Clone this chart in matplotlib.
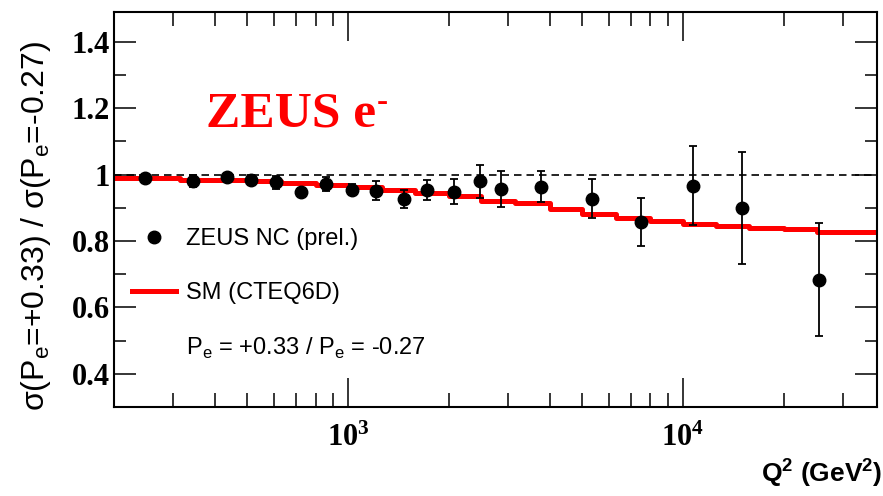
#! /usr/bin/env python
# -*- coding: utf-8 -*-
# ZEUS e- NC: ratio of cross sections for the two polarisations
import numpy as np
import matplotlib
matplotlib.use('Agg')
import matplotlib.pyplot as plt
from matplotlib.lines import Line2D
from matplotlib.ticker import FixedLocator, NullFormatter

# data points
q2_data = [248, 345, 434, 514, 611, 726, 860, 1026, 1214, 1466, 1722, 2074,
           2477, 2861, 3767, 5350, 7510, 10700, 15000, 25500]
ratio_data = [0.990, 0.980, 0.992, 0.984, 0.977, 0.948, 0.972, 0.955, 0.952, 0.927,
              0.954, 0.949, 0.980, 0.957, 0.964, 0.927, 0.857, 0.967, 0.900, 0.683]
ratio_err = [0.012, 0.018, 0.012, 0.014, 0.020, 0.012, 0.020, 0.016, 0.029, 0.028,
             0.030, 0.037, 0.050, 0.053, 0.046, 0.059, 0.073, 0.120, 0.168, 0.170]

# SM (CTEQ6D) prediction, histogram bins (left edges)
q2_sm = [200, 250, 315, 400, 500, 630, 800, 1000, 1260, 1580, 2000, 2500, 3160,
         4000, 5000, 6300, 8000, 10000, 12600, 15800, 20000, 25100, 31600, 38000]
ratio_sm = [0.990, 0.990, 0.985, 0.984, 0.982, 0.975, 0.970, 0.962, 0.955, 0.945,
            0.935, 0.922, 0.914, 0.897, 0.882, 0.870, 0.860, 0.852, 0.846, 0.840,
            0.835, 0.828, 0.828, 0.828]

y_ticks = [0.4, 0.6, 0.8, 1.0, 1.2, 1.4]
y_tick_labels = ['0.4', '0.6', '0.8', '1', '1.2', '1.4']
x_ticks = [1e3, 1e4]
x_tick_labels = [r'$\mathdefault{10^{3}}$', r'$\mathdefault{10^{4}}$']

SANS = 'Liberation Sans'
SERIF = 'Liberation Serif'


def make_plot():
    fig = plt.figure(figsize=(8.83, 4.96), dpi=100)
    ax = fig.add_axes([0.1291, 0.1794, 0.8641, 0.7964])

    ax.set_xscale('log')
    ax.set_xlim(200, 38000)
    ax.set_ylim(0.3, 1.49)

    # reference line at 1
    ax.axhline(1.0, color='black', lw=1.2, ls=(0, (4.5, 3)), zorder=1)

    # SM prediction
    ax.plot(q2_sm, ratio_sm, color='#ff0000', lw=3.6, drawstyle='steps-post', zorder=2)

    # data
    ax.errorbar(q2_data, ratio_data, yerr=ratio_err, fmt='o', color='black',
                ms=9, elinewidth=1.3, capsize=3, capthick=1.3, zorder=3)

    # ticks
    ax.xaxis.set_major_locator(FixedLocator(x_ticks))
    ax.set_xticklabels(x_tick_labels)
    minors = [m * 10 ** e for e in (2, 3, 4) for m in range(2, 10)]
    ax.xaxis.set_minor_locator(FixedLocator(minors))
    ax.xaxis.set_minor_formatter(NullFormatter())
    ax.set_yticks(y_ticks)
    ax.set_yticklabels(y_tick_labels)
    ax.set_yticks(np.arange(0.3, 1.5, 0.1), minor=True)

    ax.tick_params(which='both', direction='in', top=True, right=True, width=1.1)
    ax.tick_params(axis='x', which='major', length=21, pad=12)
    ax.tick_params(axis='x', which='minor', length=10)
    ax.tick_params(axis='y', which='major', length=16, pad=3)
    ax.tick_params(axis='y', which='minor', length=8.5)
    for lab in ax.get_xticklabels() + ax.get_yticklabels():
        lab.set_fontfamily(SERIF)
        lab.set_fontweight('bold')
        lab.set_fontsize(22)
    for sp in ax.spines.values():
        sp.set_linewidth(1.5)

    # axis titles
    ax.set_ylabel(r'σ(P$_{\mathdefault{e}}$=+0.33) / σ(P$_{\mathdefault{e}}$=-0.27)',
                  family=SANS, fontsize=23)
    ax.yaxis.set_label_coords(-0.08, 0.458)
    ax.set_xlabel(r'Q$^{\mathdefault{2}}$ (GeV$^{\mathdefault{2}}$)', family=SANS,
                  fontweight='bold', fontsize=19, loc='right')
    ax.xaxis.set_label_coords(1.0066, -0.125)

    # title inside the frame
    ax.text(0.1206, 0.709, 'ZEUS e', transform=ax.transAxes,
            family=SERIF, fontweight='bold', fontsize=37, color='#ff0000',
            va='baseline', ha='left')
    ax.text(0.3447, 0.772, '-', transform=ax.transAxes,
            family=SERIF, fontweight='bold', fontsize=24, color='#ff0000',
            va='center', ha='left')

    # legend
    handles = [
        Line2D([], [], ls='none', marker='o', color='black', ms=9),
        Line2D([], [], color='#ff0000', lw=3.6),
        Line2D([], [], ls='none'),
    ]
    labels = ['ZEUS NC (prel.)', 'SM (CTEQ6D)',
              r'P$_{\mathdefault{e}}$ = +0.33 / P$_{\mathdefault{e}}$ = -0.27']
    ax.legend(handles, labels, loc='upper left', bbox_to_anchor=(0.0236, 0.452),
              frameon=False, borderpad=0, borderaxespad=0, handlelength=1.85,
              handletextpad=0.42, labelspacing=1.35,
              prop={'family': SANS, 'size': 17})

    fig.savefig('out.png', dpi=100)


if __name__ == '__main__':
    make_plot()
